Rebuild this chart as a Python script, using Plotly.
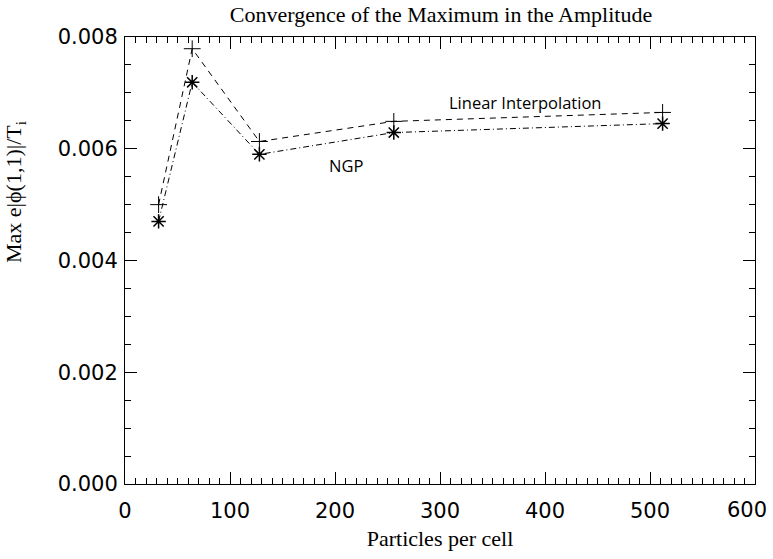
import plotly.graph_objects as go

particles = [32, 64, 128, 256, 512]
linear_interp = [0.0050, 0.00779, 0.00613, 0.00649, 0.00665]
ngp = [0.0047, 0.00719, 0.0059, 0.00629, 0.00645]

x_ticks = [0, 100, 200, 300, 400, 500, 600]
x_tick_labels = ["0", "100", "200", "300", "400", "500", "600"]
y_ticks = [0.000, 0.002, 0.004, 0.006, 0.008]
y_tick_labels = ["0.000", "0.002", "0.004", "0.006", "0.008"]

fig = go.Figure()
fig.add_trace(go.Scatter(
    x=particles, y=linear_interp, mode="lines+markers", name="Linear Interpolation",
    line=dict(color="black", width=1, dash="6px,5px"),
    marker=dict(symbol="cross-thin-open", size=12, line=dict(color="black", width=1)),
))
fig.add_trace(go.Scatter(
    x=particles, y=ngp, mode="lines+markers", name="NGP",
    line=dict(color="black", width=1, dash="6px,3px,1px,3px"),
    marker=dict(symbol="asterisk-open", size=12, line=dict(color="black", width=1.5)),
))

fig.add_annotation(x=381, y=0.00683, text="Linear Interpolation", showarrow=False,
                   font=dict(family="Open Sans", size=16.5, color="black"))
fig.add_annotation(x=210, y=0.0057, text="NGP", showarrow=False,
                   font=dict(family="Open Sans", size=16.5, color="black"))

# y-axis title (placed as annotation to match reference position)
fig.add_annotation(xref="paper", yref="paper", x=-110/630, y=(484-192)/447, textangle=-90,
                   xanchor="center", yanchor="middle",
                   text="Max e|ϕ(1,1)|/T<sub>i</sub>", showarrow=False,
                   font=dict(family="Liberation Serif", size=22, color="black"))

tickfont = dict(family="DejaVu Sans", size=21, color="black")

# last x tick label is nudged inward (as in the reference) so it stays inside the page
fig.add_annotation(x=x_ticks[-1], xref="x", yref="paper", y=0, yshift=-26, xshift=-8,
                   text=x_tick_labels[-1], showarrow=False, xanchor="center", yanchor="middle",
                   font=tickfont)

axis_common = dict(
    showline=True, linecolor="black", linewidth=1, mirror="allticks",
    ticks="inside", ticklen=12, tickcolor="black", tickwidth=1,
    showgrid=False, zeroline=False, tickfont=tickfont, ticklabeloverflow="allow",
    automargin=False,
)

fig.update_xaxes(
    range=[0, 600], tickvals=x_ticks, ticktext=x_tick_labels[:-1] + [""], ticklabelstandoff=8,
    minor=dict(ticks="inside", ticklen=6, dtick=10, tickcolor="black", showgrid=False),
    title=dict(text="Particles per cell", font=dict(family="Liberation Serif", size=22, color="black"), standoff=8),
    **axis_common,
)
fig.update_yaxes(
    range=[0, 0.008], tickvals=y_ticks, ticktext=y_tick_labels, ticklabelstandoff=2,
    minor=dict(ticks="inside", ticklen=6, dtick=0.0005, tickcolor="black", showgrid=False),
    **axis_common,
)

fig.update_layout(
    width=773, height=559,
    margin=dict(l=125, r=18, t=37, b=75),
    plot_bgcolor="white", paper_bgcolor="white",
    showlegend=False,
    title=dict(text="Convergence of the Maximum in the Amplitude", x=441/773, xanchor="center",
               y=1 - 14/559, yanchor="middle",
               font=dict(family="Liberation Serif", size=22, color="black")),
)

fig.write_html("out.html")
